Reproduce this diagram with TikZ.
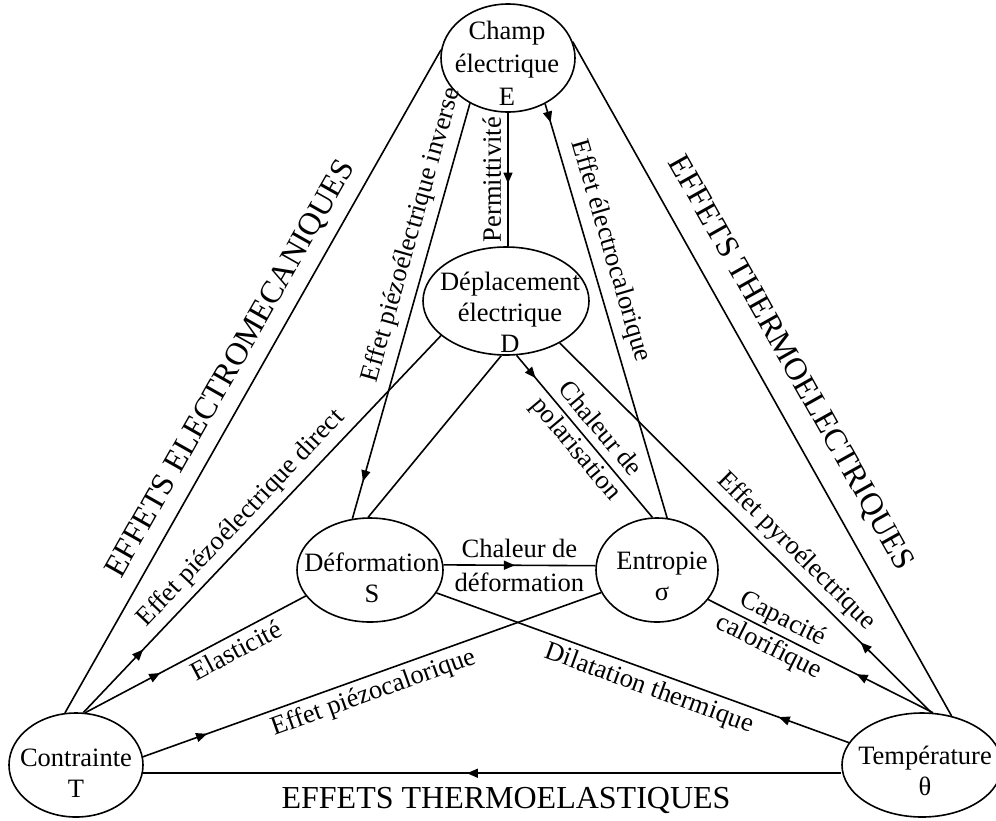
\documentclass[tikz,border=0pt]{standalone}
\usepackage{fontspec}
\setmainfont{Liberation Serif}
\usetikzlibrary{shapes.geometric, arrows.meta, decorations.markings}

\tikzset{
  var/.style n args={2}{draw, ellipse, line width=1.6pt, minimum width=#1, minimum height=#2, inner sep=0pt},
  vartext/.style={align=center, font=\fontsize{26.5}{31}\selectfont, inner sep=0pt},
  link/.style={line width=1.6pt},
  lbl/.style={font=\fontsize{26.5}{31}\selectfont, inner sep=3pt, sloped},
  title/.style={font=\fontsize{32}{36}\selectfont, inner sep=3pt, sloped},
  fwd/.style={postaction={decorate}, decoration={markings,
      mark=at position #1 with {\arrow{Triangle[length=11pt,width=9pt]}}}},
  bwd/.style={postaction={decorate}, decoration={markings,
      mark=at position #1 with {\arrowreversed{Triangle[length=11pt,width=9pt]}}}},
}

\begin{document}
\begin{tikzpicture}[x=1pt, y=-1pt]
\useasboundingbox (0,0) rectangle (996,820);

% state variables
\node[var={134pt}{108pt}] (E)   at (508,58)  {};
\node[var={166pt}{108pt}] (D)   at (506,301) {};
\node[var={146pt}{104pt}] (S)   at (370,570) {};
\node[var={122pt}{104pt}] (sig) at (657,570) {};
\node[var={134pt}{104pt}] (T)   at (76,765)  {};
\node[var={160pt}{104pt}] (th)  at (922,765) {};

\node[vartext, font=\fontsize{26.5}{33}\selectfont] (Et) at (507,63) {Champ\\électrique\\E};
\node[vartext] (Dt)  at (510,312) {Déplacement\\électrique\\D};
\node[vartext] (St)  at (372,578) {Déformation\\S};
\node[vartext] (sigt) at (662,576) {Entropie\\σ};
\node[vartext] (Tt)  at (76,773)  {Contrainte\\T};
\node[vartext] (tht) at (925,771) {Température\\θ};

% outer triangle
\draw[link] (T.102) -- node[title, above=8pt, pos=0.5] {EFFETS ELECTROMECANIQUES} (E.173);
\draw[link] (E.14) -- node[title, above=15pt, pos=0.5] {EFFETS THERMOELECTRIQUES} (th.59);
\draw[link, bwd=0.464] (T.-7) -- node[title, below=10pt, pos=0.52] {EFFETS THERMOELASTIQUES} (T.-7 -| th.west);

% links from the stress
\draw[link, fwd=0.167] (T.82) -- node[lbl, above=3pt, pos=0.48] {Effet piézoélectrique direct} (D.208);
\draw[link, fwd=0.34] (T.80) -- node[lbl, below=2pt, pos=0.65] {Elasticité} (S.202);
\draw[link, fwd=0.14] (T.7) -- node[lbl, below=2pt, pos=0.49] {Effet piézocalorique} (sig.202);

% links from the electric field
\draw[link, bwd=0.47] (E.south |- D.north) -- node[lbl, above=3pt, pos=0.5] {Permittivité} (E.south);
\draw[link, bwd=0.09] (S.109) -- node[lbl, above=4pt, pos=0.67] {Effet piézoélectrique inverse} (E.230);
\draw[link, fwd=0.045] (E.-51) -- node[lbl, above=5pt, pos=0.37] {Effet électrocalorique} (sig.79);

% inner links
\draw[link] (D.-95) -- (S.92);
\draw[link, fwd=0.14] (D.-79) -- node[lbl, align=center, pos=0.52] {Chaleur de\\polarisation} (sig.95);
\draw[link, fwd=0.47] (S.4) -- node[lbl, align=center, pos=0.5] {Chaleur de\\[3pt]déformation} (sig.176);

% links from the temperature
\draw[link, bwd=0.81] (D.-38) -- node[lbl, above=3pt, pos=0.6] {Effet pyroélectrique} (th.80);
\draw[link, bwd=0.66] (sig.-30) -- node[lbl, align=center, pos=0.3] {Capacité\\calorifique} (th.78);
\draw[link, bwd=0.83] (S.-19) -- node[lbl, below=2pt, pos=0.53] {Dilatation thermique} (th.163);
\end{tikzpicture}
\end{document}
